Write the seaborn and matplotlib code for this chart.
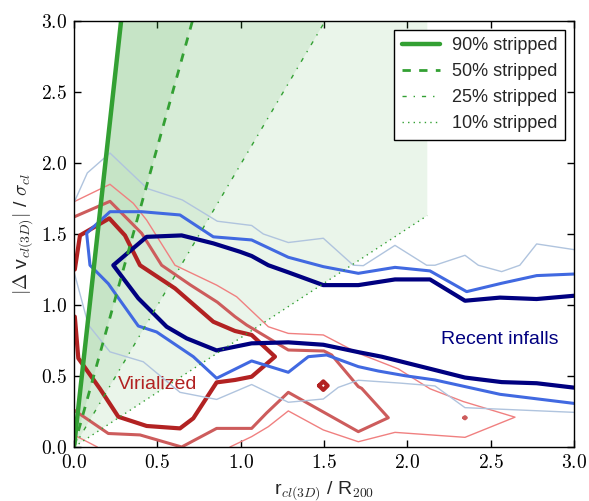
import matplotlib
matplotlib.use("Agg")
import matplotlib.pyplot as plt
import seaborn as sns
from matplotlib.ticker import FixedLocator, FormatStrFormatter

# ---------------- data ----------------
tick_values = [0.0, 0.5, 1.0, 1.5, 2.0, 2.5, 3.0]

# stripping lines (x end points, y values)
strip_x = [0.0, 2.12]
strip90_y = [0.0, 22.5]
strip50_y = [0.0, 8.95]
strip25_y = [0.0, 4.22]
strip10_y = [0.0, 1.63]
strip_labels = ["90% stripped", "50% stripped", "25% stripped", "10% stripped"]

# virialized contours (red)
vir_hi_x = [0.005, 0.036, 0.212, 0.306, 0.396, 0.606, 0.836, 0.966, 1.066, 1.206, 1.066, 0.966, 0.856, 0.716, 0.636, 0.436, 0.266, 0.156, 0.026, 0.005]
vir_hi_y = [1.25, 1.49, 1.61, 1.49, 1.28, 1.117, 0.882, 0.817, 0.789, 0.636, 0.495, 0.472, 0.455, 0.202, 0.131, 0.148, 0.213, 0.41, 0.625, 0.918]
vir_blob_x = [1.47, 1.496, 1.522, 1.496, 1.47]
vir_blob_y = [0.432, 0.462, 0.432, 0.402, 0.432]

vir_mid_x = [0.0, 0.216, 0.406, 0.526, 0.70, 0.86, 0.966, 1.036, 1.286, 1.50, 1.546, 1.706, 1.726, 1.886, 1.706, 1.286, 1.156, 1.066, 0.856, 0.646, 0.396, 0.206, 0.0]
vir_mid_y = [1.62, 1.73, 1.505, 1.28, 1.14, 1.02, 0.918, 0.859, 0.683, 0.676, 0.648, 0.425, 0.413, 0.206, 0.108, 0.385, 0.24, 0.131, 0.131, 0.0, 0.085, 0.095, 0.26]
vir_dot_x = [2.338, 2.346, 2.354, 2.346, 2.338]
vir_dot_y = [0.206, 0.214, 0.206, 0.198, 0.206]

vir_lo_a_x = [0.0, 0.14]
vir_lo_a_y = [0.085, 0.0]
vir_lo_b_x = [0.936, 1.066, 1.166, 1.286, 1.496, 1.706, 1.926, 2.346, 2.646, 2.336, 2.136, 1.946, 1.706, 1.496, 1.286, 1.166, 0.976, 0.856, 0.606, 0.436, 0.356, 0.216, 0.0]
vir_lo_b_y = [0.0, 0.073, 0.143, 0.254, 0.12, 0.037, 0.103, 0.068, 0.21, 0.32, 0.41, 0.55, 0.66, 0.789, 0.80, 0.847, 1.058, 1.14, 1.28, 1.598, 1.716, 1.85, 1.727]

# recent infall contours (blue)
inf_hi_x = [3.0, 2.776, 2.556, 2.346, 2.136, 1.926, 1.706, 1.496, 1.286, 1.166, 1.066, 0.996, 0.836, 0.646, 0.436, 0.236, 0.386, 0.556, 0.676, 0.856, 1.066, 1.286, 1.496, 1.706, 1.846, 1.986, 2.136, 2.346, 2.566, 2.776, 3.0]
inf_hi_y = [1.065, 1.042, 1.052, 1.03, 1.18, 1.18, 1.14, 1.14, 1.23, 1.28, 1.345, 1.375, 1.434, 1.49, 1.48, 1.28, 1.047, 0.847, 0.765, 0.68, 0.73, 0.737, 0.72, 0.668, 0.636, 0.595, 0.551, 0.489, 0.457, 0.449, 0.418]

inf_mid_x = [3.0, 2.776, 2.566, 2.356, 2.136, 1.926, 1.706, 1.496, 1.286, 1.066, 0.836, 0.636, 0.406, 0.216, 0.076, 0.096, 0.206, 0.266, 0.386, 0.496, 0.716, 0.856, 1.066, 1.286, 1.406, 1.516, 1.706, 1.826, 1.986, 2.166, 2.556, 3.0]
inf_mid_y = [1.218, 1.207, 1.153, 1.094, 1.24, 1.265, 1.223, 1.27, 1.336, 1.458, 1.48, 1.634, 1.657, 1.657, 1.505, 1.28, 1.15, 1.05, 0.852, 0.81, 0.636, 0.484, 0.606, 0.526, 0.636, 0.648, 0.566, 0.535, 0.502, 0.472, 0.371, 0.307]

inf_lo_a_x = [0.0, 0.08, 0.216, 0.44, 0.65, 0.86, 1.066, 1.136, 1.286, 1.496, 1.676, 1.736, 1.926, 2.116, 2.166, 2.346, 2.426, 2.566, 2.675, 2.776, 3.0]
inf_lo_a_y = [1.72, 1.93, 2.07, 1.82, 1.74, 1.59, 1.56, 1.50, 1.44, 1.47, 1.28, 1.277, 1.42, 1.28, 1.28, 1.35, 1.28, 1.235, 1.28, 1.43, 1.39]
inf_lo_b_x = [0.0, 0.086, 0.216, 0.416, 0.636, 0.856, 1.066, 1.286, 1.496, 1.586, 1.706, 1.956, 2.166, 2.346, 3.0]
inf_lo_b_y = [1.235, 0.86, 0.67, 0.60, 0.385, 0.335, 0.44, 0.315, 0.338, 0.42, 0.47, 0.45, 0.43, 0.277, 0.244]

# ---------------- style ----------------
sns.set_style("ticks")
plt.rcParams['font.family'] = ['Liberation Sans', 'DejaVu Sans']
plt.rcParams['mathtext.fontset'] = 'cm'
plt.rcParams['lines.scale_dashes'] = False

fig = plt.figure(figsize=(5.89, 5.01), dpi=100)
ax = fig.add_axes([0.1256, 0.1078, 0.8489, 0.8503])

green = '#33a033'

# shaded wedges
ax.fill_between(strip_x, strip50_y, strip90_y, color=green, alpha=0.1, lw=0)
ax.fill_between(strip_x, strip25_y, strip90_y, color=green, alpha=0.1, lw=0)
ax.fill_between(strip_x, strip10_y, strip90_y, color=green, alpha=0.1, lw=0)


def draw(xs, ys, color, lw, **kw):
    sns.lineplot(x=xs, y=ys, sort=False, estimator=None, color=color,
                 lw=lw, ax=ax, **kw)
    return ax.lines[-1]


red_hi, red_mid, red_lo = '#b22222', '#cd5c5c', '#f08080'
blue_hi, blue_mid, blue_lo = '#000080', '#4169e1', '#b0c4de'

draw(vir_lo_a_x, vir_lo_a_y, red_lo, 1)
draw(vir_lo_b_x, vir_lo_b_y, red_lo, 1)
draw(vir_mid_x, vir_mid_y, red_mid, 2.2)
draw(vir_dot_x, vir_dot_y, red_mid, 2.2)
draw(vir_hi_x, vir_hi_y, red_hi, 3)
draw(vir_blob_x, vir_blob_y, red_hi, 3)

draw(inf_lo_a_x, inf_lo_a_y, blue_lo, 1)
draw(inf_lo_b_x, inf_lo_b_y, blue_lo, 1)
draw(inf_mid_x, inf_mid_y, blue_mid, 2.2)
draw(inf_hi_x, inf_hi_y, blue_hi, 3)

h90 = draw(strip_x, strip90_y, green, 3.2)
h50 = draw(strip_x, strip50_y, green, 2, dashes=(6, 6))
h25 = draw(strip_x, strip25_y, green, 1, dashes=(3, 5, 1, 5))
h10 = draw(strip_x, strip10_y, green, 1, dashes=(1, 3))

ax.text(0.50, 0.44, "Virialized", color=red_hi, fontsize=14,
        ha='center', va='center')
ax.text(2.555, 0.755, "Recent infalls", color=blue_hi, fontsize=14,
        ha='center', va='center')

leg = ax.legend([h90, h50, h25, h10], strip_labels, loc='upper right',
                fontsize=13, frameon=True, fancybox=False, framealpha=1,
                edgecolor='black', handlelength=2.1, borderpad=0.4,
                labelspacing=0.5, borderaxespad=0.5, handletextpad=0.7)
leg.get_frame().set_linewidth(1.0)

ax.set_xlim(0, 3)
ax.set_ylim(0, 3)
ax.xaxis.set_major_locator(FixedLocator(tick_values))
ax.yaxis.set_major_locator(FixedLocator(tick_values))
ax.xaxis.set_major_formatter(FormatStrFormatter('$%.1f$'))
ax.yaxis.set_major_formatter(FormatStrFormatter('$%.1f$'))
ax.tick_params(direction='in', top=True, right=True, length=5, width=1,
               labelsize=14, pad=5, colors='black')
for s in ax.spines.values():
    s.set_visible(True)
    s.set_linewidth(1.0)
    s.set_color('black')

ax.set_xlabel(r'r$_{cl(3D)}$ / R$_{200}$', fontsize=14, labelpad=5)
ax.set_ylabel(r'$|\Delta$ v$_{cl(3D)}|$ / $\sigma_{cl}$', fontsize=14, labelpad=4)

fig.savefig("out.png", dpi=100)
